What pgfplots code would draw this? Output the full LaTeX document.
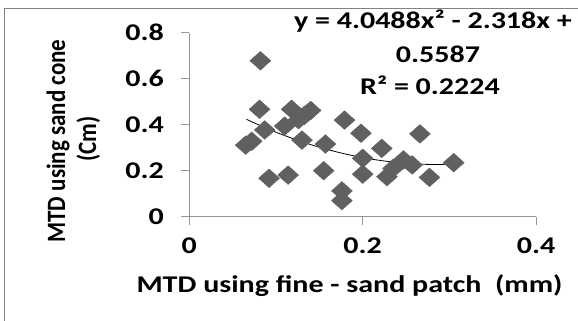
\documentclass[border=0pt]{standalone}
\usepackage{pgfplots}
\pgfplotsset{compat=1.18}
\usepackage{fontspec}
\setmainfont{Carlito}[FakeStretch=1.25]
\newfontfamily\yfont{Carlito}
\usepackage{graphicx}
\definecolor{markgray}{RGB}{96,96,96}
\definecolor{axgray}{RGB}{150,150,150}
\definecolor{framegray}{RGB}{130,130,130}
\begin{document}
\begin{tikzpicture}
\useasboundingbox (0,0) rectangle (578bp,-321bp);
\fill[white] (0,0) rectangle (578bp,-321bp);
\draw[framegray, line width=1.2bp] (4.5bp,-700bp) -- (4.5bp,-8.5bp) -- (900bp,-8.5bp);
\begin{axis}[
  at={(189.3bp,-216.7bp)}, anchor=south west,
  scale only axis, width=346.8bp, height=184bp,
  xmin=0, xmax=0.4, ymin=0, ymax=0.8,
  axis x line=bottom, axis y line=left,
  axis line style={-, draw=axgray, line width=0.9bp},
  xtick={0,0.2,0.4}, ytick={0,0.2,0.4,0.6,0.8},
  xticklabels={0,0.2,0.4}, yticklabels={0,0.2,0.4,0.6,0.8},
  tick align=outside, major tick length=8bp,
  tick style={axgray, line width=0.9bp},
  /pgf/number format/assume math mode=true,
  ticklabel style={font=\bfseries\fontsize{24bp}{28bp}\selectfont},
  yticklabel style={anchor=east, xshift=-14bp},
  xticklabel style={anchor=north, yshift=-10bp},
  clip=false,
]
\addplot[only marks, mark=square*, mark size=6.6bp,
  mark options={xscale=1.12, rotate=45, fill=markgray, draw=markgray}]
coordinates {
(0.082,0.678) (0.081,0.467) (0.118,0.467) (0.140,0.462) (0.133,0.441)
(0.126,0.422) (0.110,0.394) (0.087,0.377) (0.072,0.328) (0.065,0.311)
(0.130,0.333) (0.157,0.316) (0.179,0.420) (0.198,0.363) (0.092,0.167)
(0.114,0.181) (0.155,0.200) (0.176,0.112) (0.176,0.070) (0.200,0.185)
(0.200,0.254) (0.222,0.297) (0.247,0.247) (0.257,0.225) (0.235,0.210)
(0.228,0.174) (0.266,0.360) (0.277,0.171) (0.305,0.235)
};
\addplot[black, line width=0.8bp, smooth, no marks] coordinates {
(0.066,0.4234) (0.08,0.3992) (0.10,0.3674) (0.12,0.3389) (0.14,0.3135)
(0.16,0.2915) (0.18,0.2726) (0.20,0.2571) (0.22,0.2447) (0.24,0.2356)
(0.26,0.2297) (0.28,0.2271) (0.305,0.2284)
};
\end{axis}
\begin{scope}[every node/.style={font=\bfseries\fontsize{24bp}{28bp}\selectfont, inner sep=0pt}]
\node[anchor=base] at (349.5bp,-292bp) {MTD using fine - sand patch\ \ (mm)};
\node[anchor=base] at (433bp,-28bp) {y = 4.0488x² - 2.318x +};
\node[anchor=base] at (438bp,-62.7bp) {0.5587};
\node[anchor=base] at (430bp,-94.5bp) {R² = 0.2224};
\node[anchor=base, rotate=90] at (65bp,-141bp) {\yfont\bfseries\fontsize{23bp}{28bp}\selectfont\scalebox{1}[1.15]{MTD using sand cone}};
\node[anchor=base, rotate=90] at (96bp,-139bp) {\yfont\bfseries\fontsize{23bp}{28bp}\selectfont\scalebox{1}[1.15]{(Cm)}};
\end{scope}
\end{tikzpicture}
\end{document}
